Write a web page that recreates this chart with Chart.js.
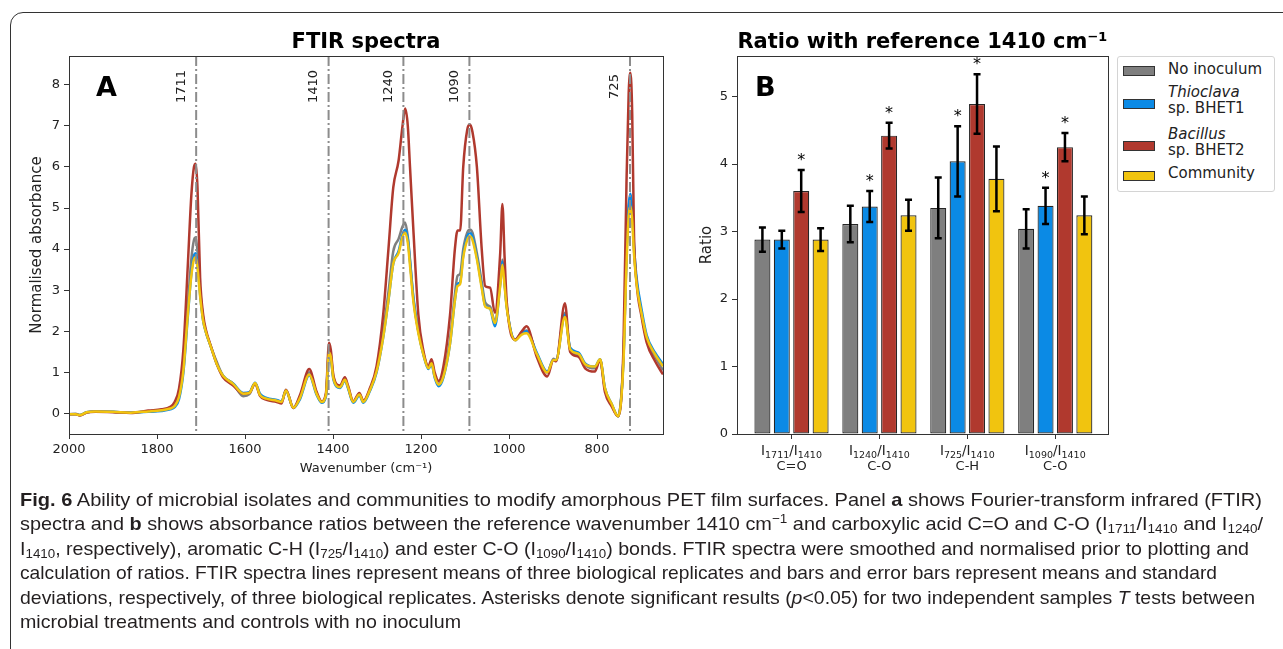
<!DOCTYPE html>
<html><head><meta charset="utf-8">
<script src="https://cdn.jsdelivr.net/npm/chart.js@4.4.1/dist/chart.umd.min.js"></script>
<style>
html,body{margin:0;padding:0;background:#fff;width:1283px;height:649px;overflow:hidden;position:relative;}
#frame{position:absolute;left:10px;top:12px;width:1400px;height:800px;border:1.5px solid #333;border-radius:13px;box-sizing:border-box;}
#ca{position:absolute;left:0;top:0;}
#cb{position:absolute;left:680px;top:0;}
#legend{position:absolute;left:1117px;top:56px;width:158px;height:136px;border:1px solid #d4d4d4;border-radius:3px;box-sizing:border-box;background:#fff;}
.sw{position:absolute;left:1123px;width:32px;height:10px;border:1px solid #333;box-sizing:border-box;}
.lt{position:absolute;left:1168px;font-family:"DejaVu Sans";font-size:15px;line-height:17px;color:#222;white-space:nowrap;}
#caption{position:absolute;left:20px;top:488px;font-family:"Liberation Sans Narrow","Liberation Sans",sans-serif;font-size:19px;color:#231f20;}
.ln{display:block;width:max-content;white-space:nowrap;height:24.4px;line-height:24.4px;transform-origin:0 50%;}
.ln sub,.ln sup{font-size:0.68em;line-height:0;}
.ln sub{vertical-align:-0.25em;}
.ln sup{vertical-align:0.55em;}
</style></head>
<body>
<div id="frame"></div>
<canvas id="ca" width="680" height="490"></canvas>
<canvas id="cb" width="440" height="490"></canvas>
<div id="legend"></div>
<div class="sw" style="top:66px;background:#7f7f7f"></div>
<div class="sw" style="top:99px;background:#0b8ae5"></div>
<div class="sw" style="top:141px;background:#b0392e"></div>
<div class="sw" style="top:171px;background:#f1c40f"></div>
<div class="lt" style="top:61px">No inoculum</div>
<div class="lt" style="top:84px"><i>Thioclava</i></div>
<div class="lt" style="top:100px">sp. BHET1</div>
<div class="lt" style="top:126px"><i>Bacillus</i></div>
<div class="lt" style="top:142px">sp. BHET2</div>
<div class="lt" style="top:165px">Community</div>
<div id="caption">
<div class="ln" data-w="1242"><b>Fig. 6</b> Ability of microbial isolates and communities to modify amorphous PET film surfaces. Panel <b>a</b> shows Fourier-transform infrared (FTIR)</div>
<div class="ln" data-w="1243">spectra and <b>b</b> shows absorbance ratios between the reference wavenumber 1410 cm<sup>−1</sup> and carboxylic acid C=O and C-O (I<sub>1711</sub>/I<sub>1410</sub> and I<sub>1240</sub>/</div>
<div class="ln" data-w="1229">I<sub>1410</sub>, respectively), aromatic C-H (I<sub>725</sub>/I<sub>1410</sub>) and ester C-O (I<sub>1090</sub>/I<sub>1410</sub>) bonds. FTIR spectra were smoothed and normalised prior to plotting and</div>
<div class="ln" data-w="1197">calculation of ratios. FTIR spectra lines represent means of three biological replicates and bars and error bars represent means and standard</div>
<div class="ln" data-w="1235">deviations, respectively, of three biological replicates. Asterisks denote significant results (<i>p</i>&lt;0.05) for two independent samples <i>T</i> tests between</div>
<div class="ln" data-w="441">microbial treatments and controls with no inoculum</div>
</div>
<script>
// ---------- Panel A data ----------
const wavenumbers = [2000,1985,1975,1960,1940,1900,1860,1820,1790,1770,
 1760,1750,1740,1730,1722,1716,1712,1708,1702,1695,
 1688,1680,1664,1650,1627,1604,1590,1577,1566,1551,
 1528,1517,1507,1490,1475,1454,1437,1426,1416,1409,
 1405,1399,1384,1373,1366,1354,1340,1331,1316,1301,
 1286,1274,1263,1251,1242,1236,1230,1225,1217,1206,
 1195,1183,1176,1169,1160,1149,1134,1123,1117,1111,
 1104,1095,1089,1083,1073,1062,1054,1043,1032,1020,
 1015,1010,1005,986,971,960,937,913,899,893,
 873,861,842,827,805,793,782,767,752,740,
 733,728,724,720,716,710,699,687,668,650];
const specNoInoculum = [-0.02,-0.01,-0.04,0.03,0.05,0.04,0.02,0.05,0.08,0.12,
 0.20,0.42,1.15,2.60,3.75,4.22,4.28,3.95,3.00,2.30,
 1.95,1.70,1.25,0.92,0.72,0.42,0.47,0.73,0.45,0.36,
 0.32,0.28,0.57,0.15,0.40,1.00,0.48,0.28,0.45,1.55,
 1.42,0.88,0.65,0.84,0.65,0.28,0.47,0.29,0.58,1.05,
 2.00,2.95,3.95,4.25,4.55,4.65,4.30,3.75,2.75,2.00,
 1.48,1.12,1.24,0.92,0.72,0.95,1.80,2.90,3.35,3.40,
 4.00,4.40,4.48,4.40,3.90,3.20,2.70,2.60,2.25,3.20,
 3.75,3.20,2.60,1.78,1.98,2.02,1.45,1.00,1.33,1.30,
 2.45,1.55,1.42,1.18,1.10,1.30,0.60,0.22,-0.07,1.30,
 3.80,5.00,5.30,4.90,4.00,3.20,2.45,1.80,1.38,1.05];
const specThioclava = [-0.02,-0.02,-0.04,0.03,0.05,0.04,0.02,0.04,0.06,0.10,
 0.15,0.35,1.00,2.35,3.40,3.85,3.90,3.65,2.90,2.25,
 1.95,1.70,1.20,0.92,0.73,0.50,0.52,0.75,0.48,0.38,
 0.33,0.29,0.55,0.13,0.35,0.93,0.45,0.26,0.42,1.45,
 1.35,0.82,0.62,0.80,0.62,0.26,0.44,0.26,0.55,1.00,
 1.85,2.75,3.65,3.95,4.35,4.47,4.25,3.70,2.80,2.00,
 1.45,1.08,1.20,0.88,0.66,0.88,1.70,2.75,3.15,3.20,
 3.85,4.30,4.40,4.30,3.80,3.10,2.62,2.55,2.12,3.15,
 3.70,3.15,2.58,1.80,1.95,2.00,1.48,1.02,1.30,1.30,
 2.40,1.60,1.48,1.22,1.14,1.32,0.62,0.24,-0.07,1.30,
 3.85,5.05,5.35,5.00,4.10,3.30,2.55,1.90,1.48,1.20];
const specBacillus = [-0.02,-0.02,-0.05,0.02,0.04,0.03,0.01,0.07,0.10,0.16,
 0.28,0.60,1.56,3.60,5.30,6.00,6.08,5.50,3.30,2.40,
 2.00,1.72,1.20,0.88,0.68,0.48,0.50,0.73,0.43,0.33,
 0.28,0.24,0.58,0.13,0.45,1.08,0.52,0.30,0.50,1.72,
 1.55,0.92,0.68,0.88,0.68,0.30,0.50,0.31,0.62,1.15,
 2.40,4.00,5.50,6.15,7.00,7.42,7.00,6.00,4.40,2.40,
 1.55,1.15,1.32,1.00,0.79,1.15,2.40,4.00,4.45,4.45,
 6.00,6.90,7.03,6.85,6.00,4.00,3.10,3.06,2.45,3.90,
 5.10,3.80,2.70,1.80,2.00,2.12,1.38,0.90,1.30,1.27,
 2.68,1.50,1.38,1.10,1.02,1.30,0.52,0.18,-0.07,1.56,
 5.60,7.80,8.29,7.30,4.40,3.18,2.37,1.72,1.27,0.95];
const specCommunity = [-0.02,-0.02,-0.04,0.03,0.05,0.04,0.02,0.05,0.08,0.12,
 0.18,0.40,1.05,2.40,3.35,3.75,3.80,3.55,2.85,2.25,
 1.95,1.70,1.20,0.92,0.72,0.48,0.50,0.74,0.45,0.36,
 0.31,0.28,0.56,0.14,0.38,0.95,0.47,0.28,0.45,1.48,
 1.38,0.85,0.64,0.82,0.64,0.28,0.46,0.28,0.57,1.02,
 1.85,2.75,3.65,3.90,4.30,4.40,4.15,3.60,2.70,1.95,
 1.45,1.10,1.22,0.90,0.70,0.90,1.70,2.75,3.10,3.15,
 3.80,4.22,4.31,4.22,3.75,3.05,2.60,2.55,2.20,3.10,
 3.62,3.10,2.55,1.78,1.92,1.95,1.45,1.00,1.30,1.30,
 2.35,1.56,1.45,1.20,1.14,1.32,0.62,0.24,-0.07,1.20,
 3.60,4.80,5.05,4.70,3.90,3.15,2.45,1.85,1.44,1.15];
const markerPeaks = [1711, 1410, 1240, 1090, 725];
const markerLabels = ['1711', '1410', '1240', '1090', '725'];
const spectraXTicks = [2000, 1800, 1600, 1400, 1200, 1000, 800];
const spectraYTicks = [0, 1, 2, 3, 4, 5, 6, 7, 8];

// ---------- Panel B data ----------
const ratioGroups = [0, 1, 2, 3];
const ratioNumerators = ['1711', '1240', '725', '1090'];
const ratioDenominator = '1410';
const ratioBonds = ['C=O', 'C-O', 'C-H', 'C-O'];
const seriesNames = ['No inoculum', 'Thioclava sp. BHET1', 'Bacillus sp. BHET2', 'Community'];
const ratioNoInoculum = [2.88, 3.11, 3.35, 3.04];
const sdNoInoculum = [0.18, 0.27, 0.45, 0.29];
const ratioThioclava = [2.88, 3.37, 4.04, 3.38];
const sdThioclava = [0.13, 0.23, 0.52, 0.27];
const ratioBacillus = [3.60, 4.42, 4.89, 4.25];
const sdBacillus = [0.31, 0.19, 0.44, 0.21];
const ratioCommunity = [2.88, 3.24, 3.78, 3.24];
const sdCommunity = [0.17, 0.23, 0.48, 0.28];
const sigNoInoculum = [false, false, false, false];
const sigThioclava = [false, true, true, true];
const sigBacillus = [true, true, true, true];
const sigCommunity = [false, false, false, false];
const ratioYTicks = [0, 1, 2, 3, 4, 5];

const colors = ['#7f7f7f', '#0b8ae5', '#b0392e', '#f1c40f'];

Chart.defaults.font.family = '"DejaVu Sans"';
Chart.defaults.color = '#222';
Chart.defaults.animation = false;

function toPts(ys) { return ys.map((y, i) => ({x: wavenumbers[i], y})); }

const spectraDecor = {
  id: 'spectraDecor',
  afterDatasetsDraw(chart) {
    const {ctx, chartArea: {left, top, right, bottom}, scales: {x}} = chart;
    ctx.save();
    ctx.strokeStyle = '#8c8c8c'; ctx.lineWidth = 2; ctx.setLineDash([10, 3, 2, 3]);
    markerPeaks.forEach(p => {
      const px = x.getPixelForValue(p);
      ctx.beginPath(); ctx.moveTo(px, top); ctx.lineTo(px, bottom); ctx.stroke();
    });
    ctx.setLineDash([]);
    ctx.fillStyle = '#222'; ctx.font = '13px "DejaVu Sans"'; ctx.textAlign = 'center'; ctx.textBaseline = 'middle';
    markerPeaks.forEach((p, i) => {
      const px = x.getPixelForValue(p);
      ctx.save(); ctx.translate(px - 15, 86.5); ctx.rotate(-Math.PI / 2); ctx.fillText(markerLabels[i], 0, 0); ctx.restore();
    });
    ctx.strokeStyle = '#333'; ctx.lineWidth = 1;
    ctx.strokeRect(Math.round(left) + 0.5, Math.round(top) + 0.5, Math.round(right - left), Math.round(bottom - top));
    ctx.textBaseline = 'alphabetic';
    ctx.font = 'bold 21px "DejaVu Sans"'; ctx.fillStyle = '#000';
    ctx.fillText('FTIR spectra', (left + right) / 2, 48);
    ctx.textAlign = 'left'; ctx.font = 'bold 27px "DejaVu Sans"';
    ctx.fillText('A', 96, 96);
    ctx.restore();
  }
};

new Chart(document.getElementById('ca'), {
  type: 'line',
  data: {
    datasets: [
      {label: seriesNames[0], data: toPts(specNoInoculum), borderColor: colors[0], order: 4},
      {label: seriesNames[1], data: toPts(specThioclava), borderColor: colors[1], order: 3},
      {label: seriesNames[2], data: toPts(specBacillus), borderColor: colors[2], order: 2},
      {label: seriesNames[3], data: toPts(specCommunity), borderColor: colors[3], order: 1}
    ]
  },
  options: {
    responsive: false, devicePixelRatio: 1,
    layout: {padding: {left: 0, top: 56, right: 17, bottom: 0}},
    elements: {line: {borderWidth: 2.5, cubicInterpolationMode: 'monotone', fill: false}, point: {radius: 0}},
    plugins: {legend: {display: false}, tooltip: {enabled: false}},
    scales: {
      x: {
        type: 'linear', reverse: true, min: 650, max: 2000,
        afterBuildTicks: s => { s.ticks = spectraXTicks.map(v => ({value: v})); },
        afterFit: s => { s.height = 56; },
        ticks: {font: {size: 13}, padding: 3, maxRotation: 0, color: '#222', callback: v => String(v)},
        grid: {drawOnChartArea: false, drawTicks: true, tickLength: 5, tickColor: '#333'},
        border: {display: false},
        title: {display: true, text: 'Wavenumber (cm⁻¹)', font: {size: 13}, color: '#222', padding: {top: 0, bottom: 14}}
      },
      y: {
        type: 'linear', min: -0.5, max: 8.7,
        afterBuildTicks: s => { s.ticks = spectraYTicks.map(v => ({value: v})); },
        afterFit: s => { s.width = 69; },
        ticks: {font: {size: 13}, padding: 4, color: '#222', callback: v => String(v)},
        grid: {drawOnChartArea: false, drawTicks: true, tickLength: 5, tickColor: '#333'},
        border: {display: false},
        title: {display: true, text: 'Normalised absorbance', font: {size: 15}, color: '#222', padding: {top: 28, bottom: 0}}
      }
    }
  },
  plugins: [spectraDecor]
});

const sdAll = [sdNoInoculum, sdThioclava, sdBacillus, sdCommunity];
const valAll = [ratioNoInoculum, ratioThioclava, ratioBacillus, ratioCommunity];
const sigAll = [sigNoInoculum, sigThioclava, sigBacillus, sigCommunity];

function drawRatioLabel(ctx, cx, baseY, num, den) {
  const parts = [['I', 0], [num, 1], ['/', 0], ['I', 0], [den, 1]];
  const nf = '13.5px "DejaVu Sans"', sf = '9.5px "DejaVu Sans"';
  let w = 0;
  parts.forEach(p => { ctx.font = p[1] ? sf : nf; w += ctx.measureText(p[0]).width; });
  let xx = cx - w / 2;
  ctx.textAlign = 'left'; ctx.textBaseline = 'alphabetic';
  parts.forEach(p => {
    ctx.font = p[1] ? sf : nf;
    ctx.fillText(p[0], xx, baseY + (p[1] ? 3 : 0));
    xx += ctx.measureText(p[0]).width;
  });
}

const ratioDecor = {
  id: 'ratioDecor',
  afterDatasetsDraw(chart) {
    const {ctx, chartArea: {left, top, right, bottom}, scales: {x, y}} = chart;
    ctx.save();
    ctx.strokeStyle = '#000'; ctx.lineWidth = 2.5;
    for (let d = 0; d < 4; d++) {
      const meta = chart.getDatasetMeta(d);
      meta.data.forEach((bar, j) => {
        const v = valAll[d][j], s = sdAll[d][j];
        const yt = y.getPixelForValue(v + s), yb = y.getPixelForValue(v - s);
        ctx.beginPath(); ctx.moveTo(bar.x, yt); ctx.lineTo(bar.x, yb);
        ctx.moveTo(bar.x - 3.5, yt); ctx.lineTo(bar.x + 3.5, yt);
        ctx.moveTo(bar.x - 3.5, yb); ctx.lineTo(bar.x + 3.5, yb);
        ctx.stroke();
        if (sigAll[d][j]) {
          ctx.fillStyle = '#000'; ctx.font = '16px "DejaVu Sans"'; ctx.textAlign = 'center'; ctx.textBaseline = 'alphabetic';
          ctx.fillText('*', bar.x, yt - 5);
        }
      });
    }
    // category labels below the axis
    ctx.fillStyle = '#222';
    ratioGroups.forEach((g, i) => {
      const cx = x.getPixelForValue(g);
      drawRatioLabel(ctx, cx, 455, ratioNumerators[i], ratioDenominator);
      ctx.font = '13px "DejaVu Sans"'; ctx.textAlign = 'center'; ctx.textBaseline = 'alphabetic';
      ctx.fillText(ratioBonds[i], cx, 470);
    });
    ctx.strokeStyle = '#333'; ctx.lineWidth = 1;
    ctx.strokeRect(Math.round(left) + 0.5, Math.round(top) + 0.5, Math.round(right - left), Math.round(bottom - top));
    ctx.fillStyle = '#000'; ctx.textAlign = 'center'; ctx.textBaseline = 'alphabetic';
    ctx.font = 'bold 21px "DejaVu Sans"';
    ctx.fillText('Ratio with reference 1410 cm⁻¹', (left + right) / 2, 48);
    ctx.textAlign = 'left'; ctx.font = 'bold 27px "DejaVu Sans"';
    ctx.fillText('B', 75, 96);
    ctx.restore();
  }
};

function barPts(vals) { return vals.map((v, i) => ({x: ratioGroups[i], y: v})); }

new Chart(document.getElementById('cb'), {
  type: 'bar',
  data: {
    datasets: valAll.map((vals, d) => ({
      label: seriesNames[d], data: barPts(vals), backgroundColor: colors[d],
      borderColor: '#262626', borderWidth: 1.2, borderSkipped: false,
      categoryPercentage: 0.8826, barPercentage: 0.825
    }))
  },
  options: {
    responsive: false, devicePixelRatio: 1,
    layout: {padding: {left: 0, top: 56, right: 12, bottom: 0}},
    plugins: {legend: {display: false}, tooltip: {enabled: false}},
    scales: {
      x: {
        type: 'linear', min: -0.62, max: 3.6, offset: false,
        afterBuildTicks: s => { s.ticks = ratioGroups.map(v => ({value: v})); },
        afterFit: s => { s.height = 56; },
        ticks: {display: false},
        grid: {offset: false, drawOnChartArea: false, drawTicks: true, tickLength: 5, tickColor: '#333'},
        border: {display: false}
      },
      y: {
        type: 'linear', min: 0, max: 5.6,
        afterBuildTicks: s => { s.ticks = ratioYTicks.map(v => ({value: v})); },
        afterFit: s => { s.width = 57; },
        ticks: {font: {size: 13}, padding: 4, color: '#222'},
        grid: {drawOnChartArea: false, drawTicks: true, tickLength: 5, tickColor: '#333'},
        border: {display: false},
        title: {display: true, text: 'Ratio', font: {size: 15}, color: '#222', padding: {top: 18, bottom: 0}}
      }
    }
  },
  plugins: [ratioDecor]
});

// fit caption lines to the widths in the reference
document.querySelectorAll('#caption .ln').forEach(el => {
  const w = el.getBoundingClientRect().width;
  const target = parseFloat(el.dataset.w);
  if (w > 0) el.style.transform = 'scaleX(' + (target / w) + ')';
});
</script>
</body></html>
